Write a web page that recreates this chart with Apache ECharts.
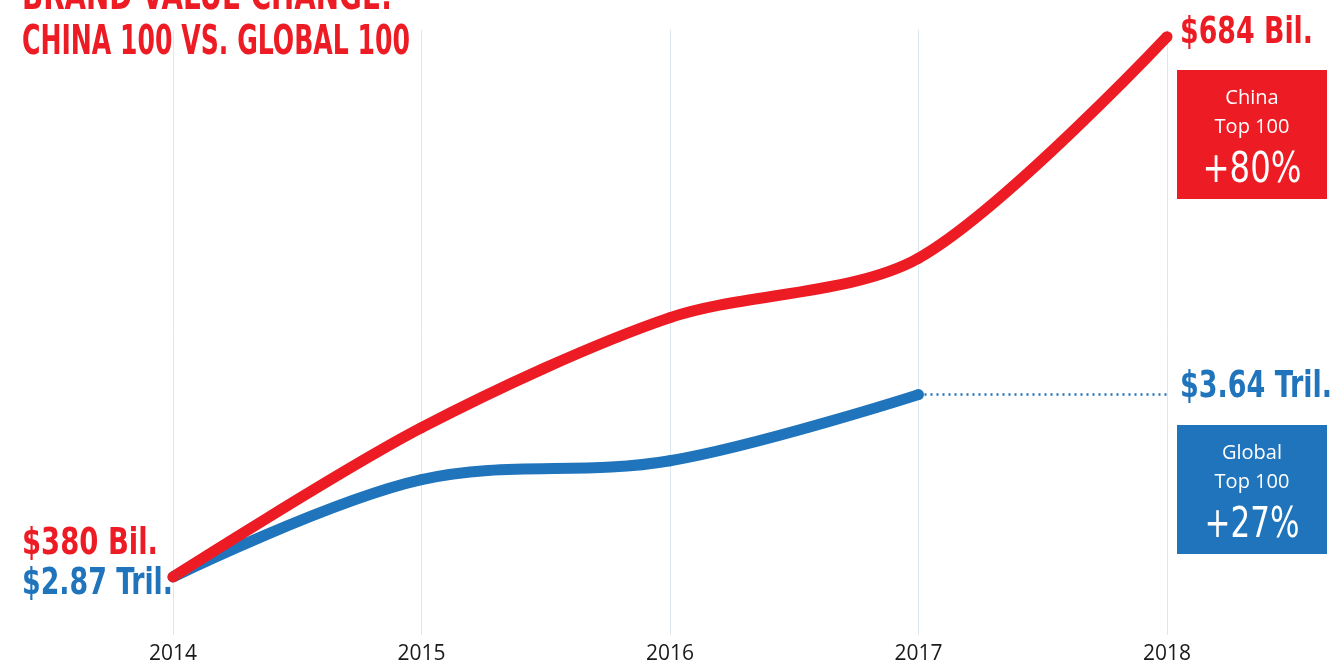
<!DOCTYPE html>
<html>
<head>
<meta charset="utf-8">
<script src="https://cdn.jsdelivr.net/npm/echarts@6/dist/echarts.min.js"></script>
<style>
  html, body { margin: 0; padding: 0; background: #fff; }
  #chart { width: 1336px; height: 667px; }
</style>
</head>
<body>
<div id="chart"></div>
<script>
const years = ['2014', '2015', '2016', '2017', '2018'];
// Percent change in brand value since 2014
const chinaChange = [0, 22.1, 38.4, 47.2, 80];
const globalChange = [0, 14.4, 17.2, 27];
const chinaStartLabel = '$380 Bil.';
const chinaEndLabel = '$684 Bil.';
const globalStartLabel = '$2.87 Tril.';
const globalEndLabel = '$3.64 Tril.';
const chinaBox = ['China', 'Top 100', '+80%'];
const globalBox = ['Global', 'Top 100', '+27%'];

const red = '#ed1c24';
const blue = '#1f74bb';
const condensed = "'DejaVu Sans Condensed', sans-serif";
const plain = "'Open Sans', Lato, sans-serif";
const labelFont = 'bold 38px ' + condensed;

const chart = echarts.init(document.getElementById('chart'));

// No narrow display font is installed, so squeeze the condensed one to width
const measureCtx = document.createElement('canvas').getContext('2d');
function squeeze(text, font, width) {
  measureCtx.font = font;
  return width / measureCtx.measureText(text).width;
}

function squeezedText(text, font, width, x, y, color, align) {
  const s = squeeze(text, font, width);
  return {
    type: 'text',
    x: x,
    y: y,
    scaleX: s,
    silent: true,
    style: { text: text, font: font, fill: color, textAlign: align, textVerticalAlign: 'middle' }
  };
}

function box(y, color, lines, pctWidth) {
  return {
    type: 'group',
    x: 1177,
    y: y,
    children: [
      { type: 'rect', shape: { x: 0, y: 0, width: 150, height: 129 }, style: { fill: color } },
      { type: 'text', x: 75, y: 28, style: { text: lines[0], fill: '#fff', font: '20px ' + plain, textAlign: 'center', textVerticalAlign: 'middle' } },
      { type: 'text', x: 75, y: 57, style: { text: lines[1], fill: '#fff', font: '20px ' + plain, textAlign: 'center', textVerticalAlign: 'middle' } },
      squeezedText(lines[2], '43px ' + condensed, pctWidth, 75, 101, '#fff', 'center')
    ]
  };
}

chart.setOption({
  animation: false,
  grid: { left: 173, right: 169, top: 30, bottom: 32 },
  xAxis: {
    type: 'category',
    data: years,
    boundaryGap: false,
    axisLine: { show: false },
    axisTick: { show: false },
    axisLabel: { color: '#1a1a1a', fontFamily: plain, fontSize: 21, margin: 9 },
    splitLine: { show: true, lineStyle: { color: '#dde7ef', width: 1 } }
  },
  yAxis: {
    type: 'value',
    min: -8.6,
    max: 81,
    show: false,
    splitLine: { show: false }
  },
  series: [
    {
      name: 'Global Top 100',
      type: 'line',
      smooth: 0.35,
      symbol: 'circle',
      symbolSize: 11,
      itemStyle: { color: blue },
      lineStyle: { color: blue, width: 11 },
      data: globalChange,
      markLine: {
        silent: true,
        symbol: 'none',
        label: { show: false },
        lineStyle: { color: blue, type: [2, 4], width: 2.5 },
        data: [[{ coord: ['2017', globalChange[3]] }, { coord: ['2018', globalChange[3]] }]]
      }
    },
    {
      name: 'China Top 100',
      type: 'line',
      smooth: 0.3,
      symbol: 'circle',
      symbolSize: 11,
      itemStyle: { color: red },
      lineStyle: { color: red, width: 11 },
      data: chinaChange
    }
  ]
});

// Place the value labels from the data points
const cStart = chart.convertToPixel({ gridIndex: 0 }, [0, chinaChange[0]]);
const cEnd = chart.convertToPixel({ gridIndex: 0 }, [4, chinaChange[4]]);
const gStart = chart.convertToPixel({ gridIndex: 0 }, [0, globalChange[0]]);
const gEnd = chart.convertToPixel({ gridIndex: 0 }, [4, globalChange[3]]);

chart.setOption({
  graphic: [
    squeezedText('BRAND VALUE CHANGE:', 'bold 40px ' + condensed, 370, 22, -1, red, 'left'),
    squeezedText('CHINA 100 VS. GLOBAL 100', 'bold 40px ' + condensed, 388, 22, 44, red, 'left'),
    squeezedText(chinaStartLabel, labelFont, 136, cStart[0] - 15, cStart[1] - 33, red, 'right'),
    squeezedText(globalStartLabel, labelFont, 151, gStart[0], gStart[1] + 7, blue, 'right'),
    squeezedText(chinaEndLabel, labelFont, 133, cEnd[0] + 13, cEnd[1] - 4, red, 'left'),
    squeezedText(globalEndLabel, labelFont, 152, gEnd[0] + 13, gEnd[1] - 7, blue, 'left'),
    box(70, red, chinaBox, 99),
    box(425, blue, globalBox, 95)
  ]
});
</script>
</body>
</html>
